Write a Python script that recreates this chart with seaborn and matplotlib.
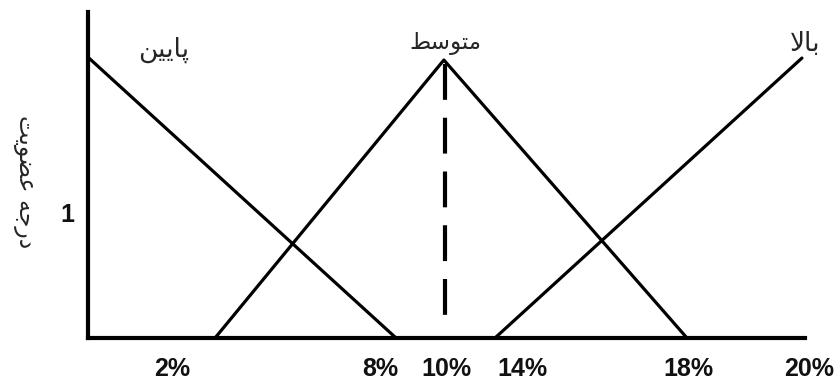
import numpy as np
import pandas as pd
import matplotlib
matplotlib.use("Agg")
import matplotlib.pyplot as plt
import seaborn as sns

# membership functions (schematic x units, membership degree)
lowX = [0.0, 8.44]
lowY = [1.01, 0.0]
midX = [3.48, 9.75, 16.41]
midY = [0.0, 1.0, 0.0]
highX = [11.15, 19.56]
highY = [0.0, 1.007]
# dashed marker under the medium peak
peakX = [9.78, 9.78]
peakY = [0.985, 0.072]

tickPos = [2.30, 8.00, 9.81, 11.89, 16.44, 19.75]
tickLab = ["2%", "8%", "10%", "14%", "18%", "20%"]
yTickPos = [0.45]
yTickLab = ["1"]

# Persian labels written in presentation forms, visual order
lblLow = "\uFEE6\uFBFF\uFBFE\uFE8E\uFB58"      # پایین
lblMid = "\uFEC2\uFEB3\uFEEE\uFE98\uFEE3"      # متوسط
lblHigh = "\uFEFB\uFE8E\uFE91"                 # بالا
lblY = "\uFE96\uFBFE\uFEEE\uFEC0\uFECB \uFEEA\uFE9F\uFEAD\uFEA9"  # درجه عضویت
lblPos = {lblLow: (2.08, 1.035, 19), lblMid: (9.78, 1.06, 16.5), lblHigh: (19.64, 1.056, 19)}

df = pd.concat([
    pd.DataFrame({"set": "low", "x": lowX, "mu": lowY}),
    pd.DataFrame({"set": "mid", "x": midX, "mu": midY}),
    pd.DataFrame({"set": "high", "x": highX, "mu": highY}),
])

sns.set_style("white")
plt.rcParams['font.family'] = ['Liberation Sans', 'DejaVu Sans']

fig = plt.figure(figsize=(8.37, 3.83), dpi=100)
ax = fig.add_axes([88/837, 45/383, 737/837, 326/383])
for name, g in df.groupby("set", sort=False):
    sns.lineplot(data=g, x="x", y="mu", sort=False, estimator=None, color="black", lw=2.3, ax=ax)
ax.plot(peakX, peakY, color="black", lw=3, linestyle=(0, (8.6, 4.3)))

ax.set_xlim(0, 737/36.5)
ax.set_ylim(0, 326/278)
for s in ["top", "right"]:
    ax.spines[s].set_visible(False)
for s in ["left", "bottom"]:
    ax.spines[s].set_linewidth(3)
    ax.spines[s].set_color("black")
ax.spines["bottom"].set_bounds(0, (805-88)/36.5)

ax.set_xticks(tickPos)
ax.set_xticklabels(tickLab, fontsize=18, fontweight="bold", color="#111111")
ax.set_yticks(yTickPos)
ax.set_yticklabels(yTickLab, fontsize=18, fontweight="bold", color="#111111")
ax.tick_params(axis="x", length=0, pad=13.5)
ax.tick_params(axis="y", length=0, pad=10)
ax.set_xlabel("")
ax.set_ylabel(lblY, fontsize=17, rotation=270, va="center", ha="center", family="DejaVu Sans")
ax.yaxis.set_label_coords(-0.0855, 0.48)

for t, (px, py, fs) in lblPos.items():
    ax.text(px, py, t, fontsize=fs, ha="center", va="center", family="DejaVu Sans")

plt.savefig("out.png", dpi=100)
plt.close()
